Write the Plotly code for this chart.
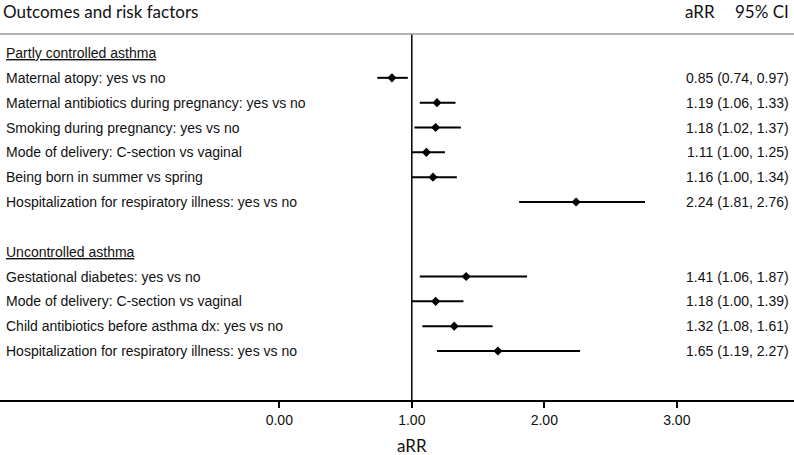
import plotly.graph_objects as go

# ---------------- data ----------------
sections = ["Partly controlled asthma", "Uncontrolled asthma"]

factors_partly = [
    "Maternal atopy: yes vs no",
    "Maternal antibiotics during pregnancy: yes vs no",
    "Smoking during pregnancy: yes vs no",
    "Mode of delivery: C-section vs vaginal",
    "Being born in summer vs spring",
    "Hospitalization for respiratory illness: yes vs no",
]
arr_partly = [0.85, 1.19, 1.18, 1.11, 1.16, 2.24]
lo_partly = [0.74, 1.06, 1.02, 1.00, 1.00, 1.81]
hi_partly = [0.97, 1.33, 1.37, 1.25, 1.34, 2.76]

factors_unc = [
    "Gestational diabetes: yes vs no",
    "Mode of delivery: C-section vs vaginal",
    "Child antibiotics before asthma dx: yes vs no",
    "Hospitalization for respiratory illness: yes vs no",
]
arr_unc = [1.41, 1.18, 1.32, 1.65]
lo_unc = [1.06, 1.00, 1.08, 1.19]
hi_unc = [1.87, 1.39, 1.61, 2.27]

tick_vals = [0, 1, 2, 3]
tick_text = ["0.00", "1.00", "2.00", "3.00"]

# ---------------- layout helpers ----------------
W, H = 794, 455
TOP, BOTTOM = 34, 400          # plot area in pixels
PH = BOTTOM - TOP

def py(pix):                   # pixel y -> paper y
    return (BOTTOM - pix) / PH

def px(pix):                   # pixel x -> paper x
    return pix / W

# rows: section header, factors, blank, section header, factors
rows_partly = list(range(1, 1 + len(factors_partly)))
sec2_row = rows_partly[-1] + 2
rows_unc = list(range(sec2_row + 1, sec2_row + 1 + len(factors_unc)))
section_rows = [0, sec2_row]

labels = factors_partly + factors_unc
est = arr_partly + arr_unc
lo = lo_partly + lo_unc
hi = hi_partly + hi_unc
rows = rows_partly + rows_unc

fig = go.Figure()
fig.add_trace(go.Scatter(
    x=est, y=rows, mode="markers",
    marker=dict(symbol="diamond", size=7, color="black"),
    error_x=dict(type="data", symmetric=False,
                 array=[h - e for h, e in zip(hi, est)],
                 arrayminus=[e - l for e, l in zip(est, lo)],
                 color="black", thickness=2, width=0),
    showlegend=False, hoverinfo="skip",
))

label_font = dict(family="Liberation Sans, Arial, sans-serif", size=14, color="#111")
head_font = dict(family="Lato, Carlito, sans-serif", size=17, color="#111")

ann = []
for s, r in zip(sections, section_rows):
    ann.append(dict(x=px(4), xref="paper", y=r, yref="y", text="<u>%s</u>" % s,
                    xanchor="left", yanchor="middle", showarrow=False, font=label_font))
for lab, r in zip(labels, rows):
    ann.append(dict(x=px(4), xref="paper", y=r, yref="y", text=lab,
                    xanchor="left", yanchor="middle", showarrow=False, font=label_font))
for e, l, h, r in zip(est, lo, hi, rows):
    ann.append(dict(x=px(791), xref="paper", y=r, yref="y",
                    text="%.2f (%.2f, %.2f)" % (e, l, h),
                    xanchor="right", yanchor="middle", showarrow=False, font=label_font))

ann.append(dict(x=px(1), xref="paper", y=py(11), yref="paper", text="Outcomes and risk factors",
                xanchor="left", yanchor="middle", showarrow=False, font=head_font))
ann.append(dict(x=px(700), xref="paper", y=py(11), yref="paper", text="aRR",
                xanchor="center", yanchor="middle", showarrow=False, font=head_font))
ann.append(dict(x=px(791), xref="paper", y=py(11), yref="paper", text="95% CI",
                xanchor="right", yanchor="middle", showarrow=False, font=head_font))
ann.append(dict(x=1, xref="x", y=py(446), yref="paper", text="aRR",
                xanchor="center", yanchor="middle", showarrow=False, font=head_font))

n_rows = rows_unc[-1]
row_px = (351 - 53) / n_rows
y_top = -(53 - TOP) / row_px
y_bot = (BOTTOM - 53) / row_px

fig.update_layout(
    width=W, height=H,
    margin=dict(l=0, r=0, t=TOP, b=H - BOTTOM, pad=0),
    plot_bgcolor="white", paper_bgcolor="white",
    xaxis=dict(range=[-279.3 / 132.5, (W - 279.3) / 132.5],
               tickvals=tick_vals, ticktext=tick_text,
               showline=True, linecolor="black", linewidth=1.5,
               ticks="outside", ticklen=6, tickcolor="black", tickwidth=1.5,
               showgrid=False, zeroline=False, fixedrange=True,
               tickfont=label_font),
    yaxis=dict(range=[y_bot, y_top], visible=False, showgrid=False,
               zeroline=False, fixedrange=True),
    annotations=ann,
    shapes=[
        dict(type="line", xref="paper", yref="paper", x0=0, x1=1, y0=1, y1=1,
             line=dict(color="#9a9a9a", width=1.5)),
        dict(type="line", xref="x", yref="paper", x0=1, x1=1, y0=0, y1=1,
             line=dict(color="black", width=1.5), layer="below"),
    ],
)

fig.write_html(
    "out.html",
    config={"displayModeBar": False},
    post_script="document.body.style.margin='0';document.body.style.overflow='hidden';",
)
